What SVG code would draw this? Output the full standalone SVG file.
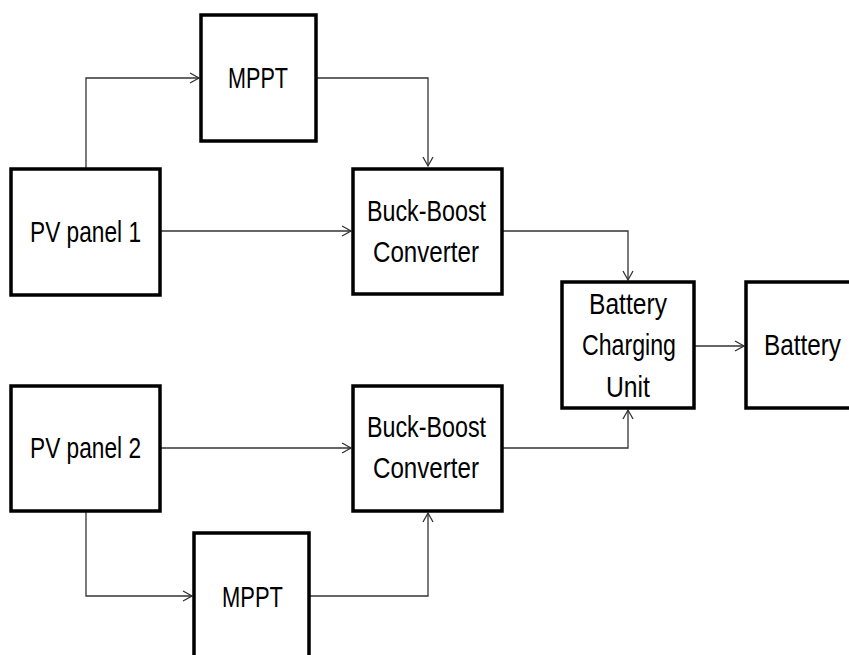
<svg xmlns="http://www.w3.org/2000/svg" width="849" height="655" viewBox="0 0 849 655">
<style>
.box{fill:#fff;stroke:#000;stroke-width:3.5}
.lbl{font-family:"Liberation Sans",Arial,sans-serif;font-size:30px;fill:#000;text-anchor:middle}
.con{fill:none;stroke:#333;stroke-width:1.3}
</style>
<defs>
<marker id="arr" markerUnits="userSpaceOnUse" markerWidth="14" markerHeight="14" refX="10" refY="6" orient="auto">
<path d="M1,1 L10,6 L1,11" fill="none" stroke="#333" stroke-width="1.3"/>
</marker>
</defs>
<rect width="849" height="655" fill="#fff"/>
<g id="connectors">
<path class="con" d="M86,169 V78 H199" marker-end="url(#arr)"/>
<path class="con" d="M316,78 H428 V166" marker-end="url(#arr)"/>
<path class="con" d="M160,231 H351" marker-end="url(#arr)"/>
<path class="con" d="M502,231 H628 V280" marker-end="url(#arr)"/>
<path class="con" d="M694,346 H744" marker-end="url(#arr)"/>
<path class="con" d="M160,448 H351" marker-end="url(#arr)"/>
<path class="con" d="M502,448 H628 V410" marker-end="url(#arr)"/>
<path class="con" d="M86,511 V596 H192" marker-end="url(#arr)"/>
<path class="con" d="M309,596 H428 V513" marker-end="url(#arr)"/>
</g>
<g id="mppt1">
<rect class="box" x="201" y="15" width="115" height="126"/>
<text class="lbl" x="258" y="88" textLength="60" lengthAdjust="spacingAndGlyphs">MPPT</text>
</g>
<g id="pv1">
<rect class="box" x="11" y="169" width="149" height="126"/>
<text class="lbl" x="85.5" y="242" textLength="111" lengthAdjust="spacingAndGlyphs">PV panel 1</text>
</g>
<g id="bb1">
<rect class="box" x="353" y="169" width="149" height="125"/>
<text class="lbl" x="426.5" y="221" textLength="119" lengthAdjust="spacingAndGlyphs">Buck-Boost</text>
<text class="lbl" x="426" y="262" textLength="106" lengthAdjust="spacingAndGlyphs">Converter</text>
</g>
<g id="bcu">
<rect class="box" x="562" y="282" width="132" height="126"/>
<text class="lbl" x="628" y="314" textLength="78" lengthAdjust="spacingAndGlyphs">Battery</text>
<text class="lbl" x="629" y="355" textLength="94" lengthAdjust="spacingAndGlyphs">Charging</text>
<text class="lbl" x="628" y="397" textLength="44" lengthAdjust="spacingAndGlyphs">Unit</text>
</g>
<g id="battery">
<rect class="box" x="746" y="282" width="110" height="126"/>
<text class="lbl" x="802.5" y="355" textLength="77" lengthAdjust="spacingAndGlyphs">Battery</text>
</g>
<g id="pv2">
<rect class="box" x="11" y="386" width="149" height="125"/>
<text class="lbl" x="85.5" y="458" textLength="111" lengthAdjust="spacingAndGlyphs">PV panel 2</text>
</g>
<g id="bb2">
<rect class="box" x="353" y="386" width="149" height="125"/>
<text class="lbl" x="426.5" y="437" textLength="119" lengthAdjust="spacingAndGlyphs">Buck-Boost</text>
<text class="lbl" x="426" y="478" textLength="106" lengthAdjust="spacingAndGlyphs">Converter</text>
</g>
<g id="mppt2">
<rect class="box" x="194" y="533" width="115" height="140"/>
<text class="lbl" x="252.5" y="607" textLength="61" lengthAdjust="spacingAndGlyphs">MPPT</text>
</g>
</svg>
